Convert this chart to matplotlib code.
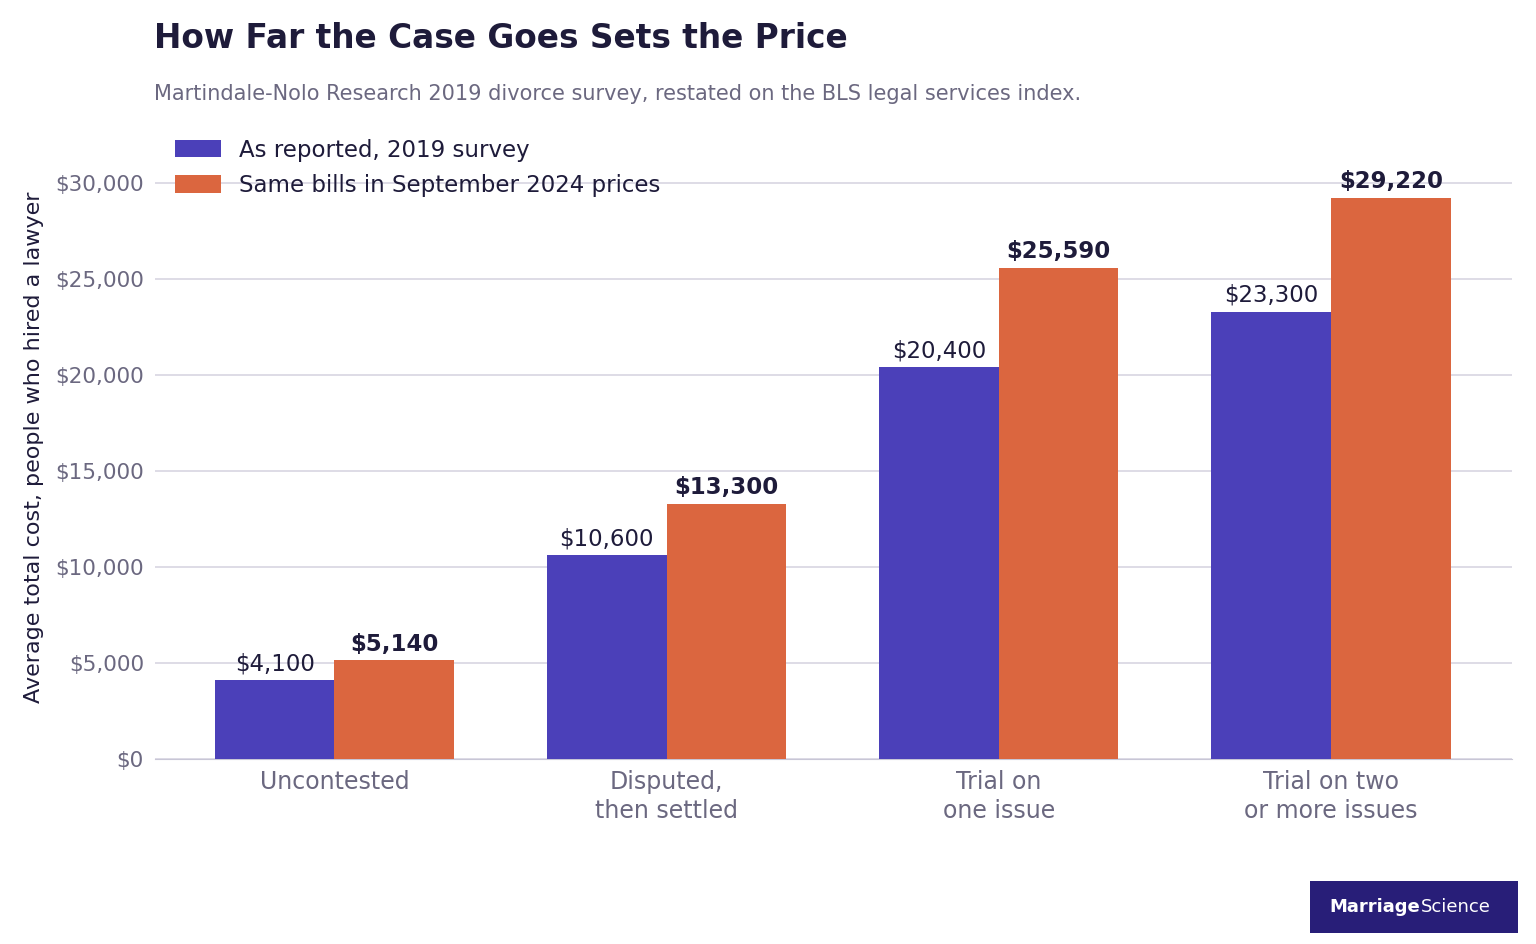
import matplotlib.pyplot as plt
import numpy as np

plt.rcParams["font.family"] = ["DejaVu Sans"]

categories = ["Uncontested", "Disputed,\nthen settled", "Trial on\none issue", "Trial on two\nor more issues"]
reported_2019 = [4100, 10600, 20400, 23300]
prices_2024 = [5140, 13300, 25590, 29220]

PURPLE = "#4b40b9"
ORANGE = "#db663f"
DARK = "#1e1b3a"
GREY = "#6b6880"

fig = plt.figure(figsize=(15.36, 9.44), dpi=100)
ax = fig.add_axes([155 / 1536, 1 - 759 / 944, (1512 - 155) / 1536, (759 - 135) / 944])

x = np.arange(len(categories))
w = 0.36
b1 = ax.bar(x - w / 2, reported_2019, w, color=PURPLE, label="As reported, 2019 survey", zorder=3)
b2 = ax.bar(x + w / 2, prices_2024, w, color=ORANGE, label="Same bills in September 2024 prices", zorder=3)

for rect, v in zip(b1, reported_2019):
    ax.text(rect.get_x() + rect.get_width() / 2, v + 250, f"${v:,}", ha="center", va="bottom",
            fontsize=16.5, color=DARK)
for rect, v in zip(b2, prices_2024):
    ax.text(rect.get_x() + rect.get_width() / 2, v + 250, f"${v:,}", ha="center", va="bottom",
            fontsize=16.5, color=DARK, fontweight="bold")

ax.set_xlim(-0.54, 3.545)
ax.set_ylim(0, 32500)
ax.set_yticks(range(0, 30001, 5000))
ax.set_yticklabels([f"${t:,}" for t in range(0, 30001, 5000)])
ax.set_xticks(x)
ax.set_xticklabels(categories, linespacing=1.25)
ax.tick_params(axis="y", length=0, labelsize=15.5, labelcolor=GREY, pad=8)
ax.tick_params(axis="x", length=0, labelsize=17, labelcolor=GREY, pad=8)
ax.grid(axis="y", color="#d8d6e2", linewidth=1.2, zorder=0)
for s in ["top", "right", "left"]:
    ax.spines[s].set_visible(False)
ax.spines["bottom"].set_color("#c8c6d6")
ax.set_ylabel("Average total cost, people who hired a lawyer", fontsize=16, color=DARK, labelpad=8)

ax.legend(loc="upper left", bbox_to_anchor=(0.003, 1.02), frameon=False, fontsize=16.5,
          handlelength=2.0, handleheight=0.8, labelcolor=DARK, borderaxespad=0.3, labelspacing=0.55)

fig.text(154 / 1536, 1 - 38 / 944, "How Far the Case Goes Sets the Price", fontsize=23.6,
         fontweight="bold", color=DARK, va="center")
fig.text(154 / 1536, 1 - 94 / 944,
         "Martindale-Nolo Research 2019 divorce survey, restated on the BLS legal services index.",
         fontsize=15, color=GREY, va="center")

logo = fig.add_axes([1310 / 1536, 1 - 933 / 944, 208 / 1536, 52 / 944])
logo.set_facecolor("#281e78")
logo.set_xticks([])
logo.set_yticks([])
for s in logo.spines.values():
    s.set_visible(False)
t1 = logo.text(0.095, 0.5, "Marriage", color="white", fontsize=13, fontweight="bold",
               va="center", ha="left", transform=logo.transAxes)
renderer = fig.canvas.get_renderer()
bb = t1.get_window_extent(renderer).transformed(logo.transAxes.inverted())
logo.text(bb.x1, 0.5, "Science", color="white", fontsize=13, va="center", ha="left",
          transform=logo.transAxes)

fig.savefig("out.png", dpi=100)
